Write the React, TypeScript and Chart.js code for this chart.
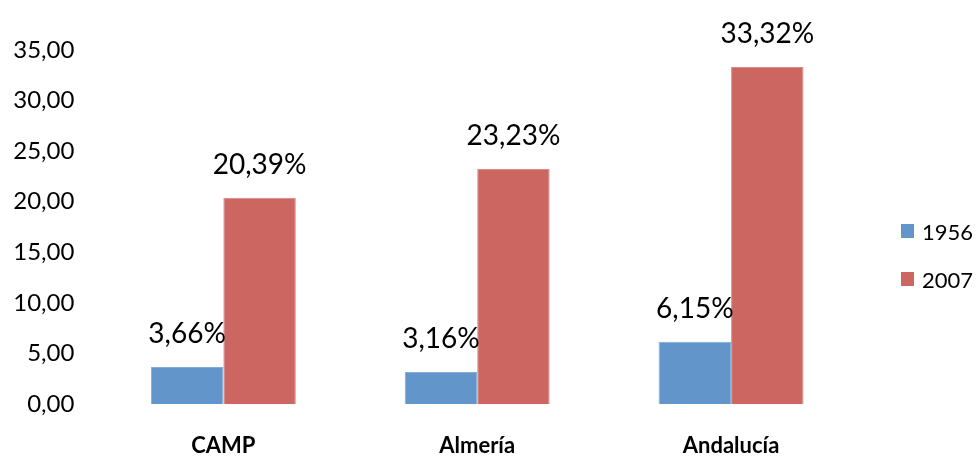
import React, { useEffect, useRef } from "react";
import { Chart, registerables } from "chart.js";

Chart.register(...registerables);

const categories = ["CAMP", "Almería", "Andalucía"];
const seriesNames = ["1956", "2007"];
const values1956 = [3.66, 3.16, 6.15];
const values2007 = [20.39, 23.23, 33.32];
const yMin = 0;
const yMax = 35;
const yStep = 5;

const BLUE = "#6295C9";
const BLUE_EDGE = "#84ACD6";
const RED = "#CC6660";
const RED_EDGE = "#DB8A85";
const FONT = "Lato, 'Open Sans', sans-serif";

const fmt = (v: number) => v.toFixed(2).replace(".", ",");

const dataLabelPlugin = {
  id: "dataLabels",
  afterDatasetsDraw(chart: any) {
    const ctx = chart.ctx;
    ctx.save();
    ctx.font = `28px ${FONT}`;
    ctx.fillStyle = "#000";
    ctx.textAlign = "center";
    ctx.textBaseline = "middle";
    chart.data.datasets.forEach((ds: any, di: number) => {
      const meta = chart.getDatasetMeta(di);
      meta.data.forEach((el: any, i: number) => {
        const v = ds.data[i] as number;
        ctx.fillText(fmt(v) + "%", el.x, el.y - 33);
      });
    });
    ctx.restore();
  },
};

const legendPlugin = {
  id: "sideLegend",
  afterDraw(chart: any) {
    const ctx = chart.ctx;
    ctx.save();
    ctx.font = `22px ${FONT}`;
    ctx.textAlign = "left";
    ctx.textBaseline = "middle";
    chart.data.datasets.forEach((ds: any, i: number) => {
      const cy = 231 + i * 48;
      ctx.fillStyle = ds.backgroundColor;
      ctx.fillRect(901, cy - 7, 13, 14);
      ctx.fillStyle = "#000";
      ctx.fillText(ds.label, 922, cy + 2);
    });
    ctx.restore();
  },
};

export default function App() {
  const ref = useRef<HTMLCanvasElement | null>(null);

  useEffect(() => {
    document.body.style.margin = "0";
    if (!ref.current) return;
    const chart = new Chart(ref.current, {
      type: "bar",
      data: {
        labels: categories,
        datasets: [
          {
            label: seriesNames[0],
            data: values1956,
            backgroundColor: BLUE,
            borderColor: BLUE_EDGE,
            borderWidth: 1,
            categoryPercentage: 0.571,
            barPercentage: 1,
          },
          {
            label: seriesNames[1],
            data: values2007,
            backgroundColor: RED,
            borderColor: RED_EDGE,
            borderWidth: 1,
            categoryPercentage: 0.571,
            barPercentage: 1,
          },
        ],
      },
      options: {
        responsive: false,
        animation: false,
        events: [],
        layout: { padding: { top: 50, right: 119, left: 0, bottom: 0 } },
        plugins: {
          legend: { display: false },
          tooltip: { enabled: false },
          title: { display: false },
        },
        scales: {
          x: {
            grid: { display: false },
            border: { display: false },
            ticks: {
              color: "#000",
              padding: 21,
              font: { family: FONT, size: 22, weight: "bold" },
            },
            afterFit: (s: any) => {
              s.height = 55;
            },
          },
          y: {
            min: yMin,
            max: yMax,
            grid: { display: false },
            border: { display: false },
            ticks: {
              stepSize: yStep,
              color: "#000",
              padding: 14,
              font: { family: FONT, size: 24 },
              callback: (v: any) => fmt(Number(v)),
            },
            afterFit: (s: any) => {
              s.width = 96.4;
            },
          },
        },
      },
      plugins: [dataLabelPlugin, legendPlugin],
    });
    return () => chart.destroy();
  }, []);

  return (
    <div style={{ width: 977, height: 459 }}>
      <canvas ref={ref} width={977} height={459} style={{ display: "block" }} />
    </div>
  );
}
